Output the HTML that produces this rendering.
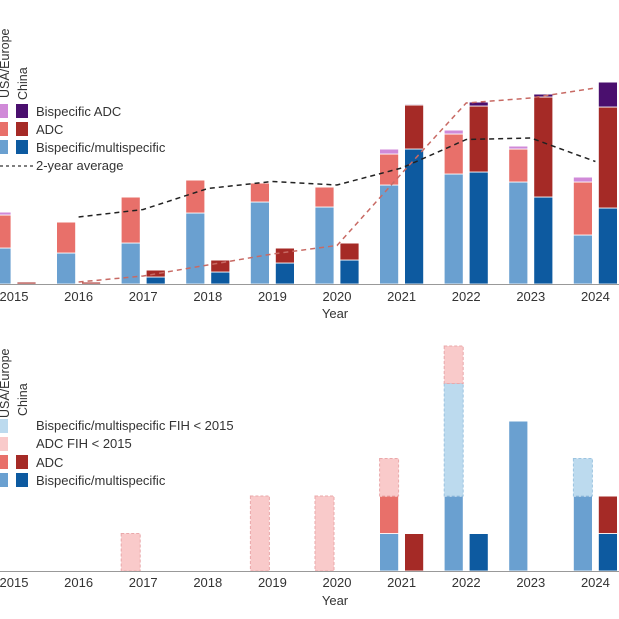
<!DOCTYPE html>
<html><head><meta charset="utf-8"><style>
html,body{margin:0;padding:0;background:#fff;}
svg{display:block;font-family:"Liberation Sans",sans-serif;}
</style></head><body>
<svg id="chart" width="619" height="619" viewBox="0 0 619 619"></svg>
<script>
const years = [2015,2016,2017,2018,2019,2020,2021,2022,2023,2024];
// Top chart (units of trials)
const usaBis    = [36,31,41,71,82,77,99,110,102,49];
const usaAdc    = [33,31,46,33,19,20,31,40,33,53];
const usaBisAdc = [3,0,0,0,0,0,5,4,3,5];
const cnBis     = [0,0,7,12,21,24,135,112,87,76];
const cnAdc     = [2,2,7,12,15,17,44,66,100,101];
const cnBisAdc  = [0,0,0,0,0,0,1,4,3,25];
// Bottom chart (approvals)
const bUsaBis    = [0,0,0,0,0,0,1,2,4,2];
const bUsaAdc    = [0,0,0,0,0,0,1,0,0,0];
const bUsaBisOld = [0,0,0,0,0,0,0,3,0,1];
const bUsaAdcOld = [0,0,1,0,2,2,1,1,0,0];
const bCnBis     = [0,0,0,0,0,0,0,1,0,1];
const bCnAdc     = [0,0,0,0,0,0,1,0,0,1];

const NS="http://www.w3.org/2000/svg";
const svg=document.getElementById('chart');
function mk(tag,attrs,parent){const e=document.createElementNS(NS,tag);for(const k in attrs)e.setAttribute(k,attrs[k]);(parent||svg).appendChild(e);return e;}
const xC = i => 16 + i*64.6;
const topBase=284, topK=1;
const yTop = v => topBase - v*topK;
const botBase=571, botK=37.5;
const yBot = v => botBase - v*botK;

function stack(parentName, x, segs, yf, base){
  let acc=0;
  segs.forEach(s=>{
    if(!s.v) return;
    const y1=yf(acc+s.v), y0=yf(acc);
    const r=mk('rect',{x:x,y:y1,width:19,height:y0-y1,fill:s.c,stroke:s.stroke||'#fff','stroke-width':s.stroke?1:0.8,'stroke-dasharray':s.stroke?'3,2':'none'});
    
    
    if(!s.stroke){mk('line',{x1:x,x2:x+19,y1:y1,y2:y1,stroke:'#fff','stroke-width':1});}
    acc+=s.v;
  });
}

// Top bars
years.forEach((yr,i)=>{
  const c=xC(i);
  stack('top',c-24,[{v:usaBis[i],c:'#6aa0d0',n:'bar-usa-bispecific-'+yr},{v:usaAdc[i],c:'#e8706a',n:'bar-usa-adc-'+yr},{v:usaBisAdc[i],c:'#d08ad8',n:'bar-usa-bispecific-adc-'+yr}],yTop);
  stack('top',c+1,[{v:cnBis[i],c:'#0d5aa0',n:'bar-china-bispecific-'+yr},{v:cnAdc[i],c:'#a52a26',n:'bar-china-adc-'+yr},{v:cnBisAdc[i],c:'#4a0f6e',n:'bar-china-bispecific-adc-'+yr}],yTop);
});
// averages
function avgLine(arrs,color,name){
  const tot=years.map((_,i)=>arrs.reduce((s,a)=>s+a[i],0));
  const pts=[];
  for(let i=1;i<years.length;i++){pts.push((xC(i)-2)+','+yTop((tot[i]+tot[i-1])/2));}
  const p=mk('polyline',{points:pts.join(' '),fill:'none',stroke:color,'stroke-width':1.5,'stroke-dasharray':'5,4'});
  
  
}
avgLine([usaBis,usaAdc,usaBisAdc],'#222','usa-2-year-average-line');
avgLine([cnBis,cnAdc,cnBisAdc],'#c86a64','china-2-year-average-line');

// Bottom bars
years.forEach((yr,i)=>{
  const c=xC(i);
  stack('bot',c-24,[{v:bUsaBis[i],c:'#6aa0d0',n:'bar-usa-bispecific-'+yr},{v:bUsaAdc[i],c:'#e8706a',n:'bar-usa-adc-'+yr},{v:bUsaBisOld[i],c:'#bcdaee',stroke:'#9cc4e0',n:'bar-usa-bispecific-fih-2015-'+yr},{v:bUsaAdcOld[i],c:'#f9caca',stroke:'#eaa8aa',n:'bar-usa-adc-fih-2015-'+yr}],yBot);
  stack('bot',c+1,[{v:bCnBis[i],c:'#0d5aa0',n:'bar-china-bispecific-'+yr},{v:bCnAdc[i],c:'#a52a26',n:'bar-china-adc-'+yr}],yBot);
});

// axes
[[topBase,296,313,'top'],[botBase,582,600,'bottom']].forEach(([b,ly,ty,nm])=>{
  const l=mk('line',{x1:0,x2:619,y1:b+0.5,y2:b+0.5,stroke:'#999','stroke-width':1});
  
  
  years.forEach((yr,i)=>{
    const t=mk('text',{x:xC(i)-2,y:ly+5,'text-anchor':'middle','font-size':13,fill:'#333'});
    t.textContent=yr;
    
    
  });
  const t=mk('text',{x:335,y:ty+5,'text-anchor':'middle','font-size':13,fill:'#333'});
  t.textContent='Year';
  
  
});

// legends
function rot(txt,x,y,name){const t=mk('text',{x:0,y:0,transform:`translate(${x},${y}) rotate(-90)`,'font-size':12.5,fill:'#333'});t.textContent=txt;}
function sw(x,y,c,name,stroke){const r=mk('rect',{x:x,y:y,width:12,height:14,fill:c,stroke:stroke||'none','stroke-dasharray':'2,2'});}
function lt(txt,y,name){const t=mk('text',{x:36,y:y,'font-size':13,fill:'#333'});t.textContent=txt;}
rot('USA/Europe',9,98,'legend-usa-europe-header');
rot('China',27,100,'legend-china-header');
sw(-4,104,'#d08ad8','legend-swatch-usa-bispecific-adc');sw(16,104,'#4a0f6e','legend-swatch-china-bispecific-adc');lt('Bispecific ADC',116,'legend-bispecific-adc');
sw(-4,122,'#e8706a','legend-swatch-usa-adc');sw(16,122,'#a52a26','legend-swatch-china-adc');lt('ADC',134,'legend-adc');
sw(-4,140,'#6aa0d0','legend-swatch-usa-bispecific');sw(16,140,'#0d5aa0','legend-swatch-china-bispecific');lt('Bispecific/multispecific',152,'legend-bispecific-multispecific');
mk('line',{x1:0,x2:34,y1:166,y2:166,stroke:'#333','stroke-dasharray':'3,3','stroke-width':1.3});lt('2-year average',170,'legend-2-year-average');

rot('USA/Europe',9,418,'legend2-usa-europe-header');
rot('China',27,416,'legend2-china-header');
sw(-4,419,'#bcdaee','legend2-swatch-bispecific-fih');lt('Bispecific/multispecific FIH < 2015',430,'legend2-bispecific-fih');
sw(-4,437,'#f9caca','legend2-swatch-adc-fih');lt('ADC FIH < 2015',448,'legend2-adc-fih');
sw(-4,455,'#e8706a','legend2-swatch-usa-adc');sw(16,455,'#a52a26','legend2-swatch-china-adc');lt('ADC',467,'legend2-adc');
sw(-4,473,'#6aa0d0','legend2-swatch-usa-bispecific');sw(16,473,'#0d5aa0','legend2-swatch-china-bispecific');lt('Bispecific/multispecific',485,'legend2-bispecific');
</script>
</body></html>
